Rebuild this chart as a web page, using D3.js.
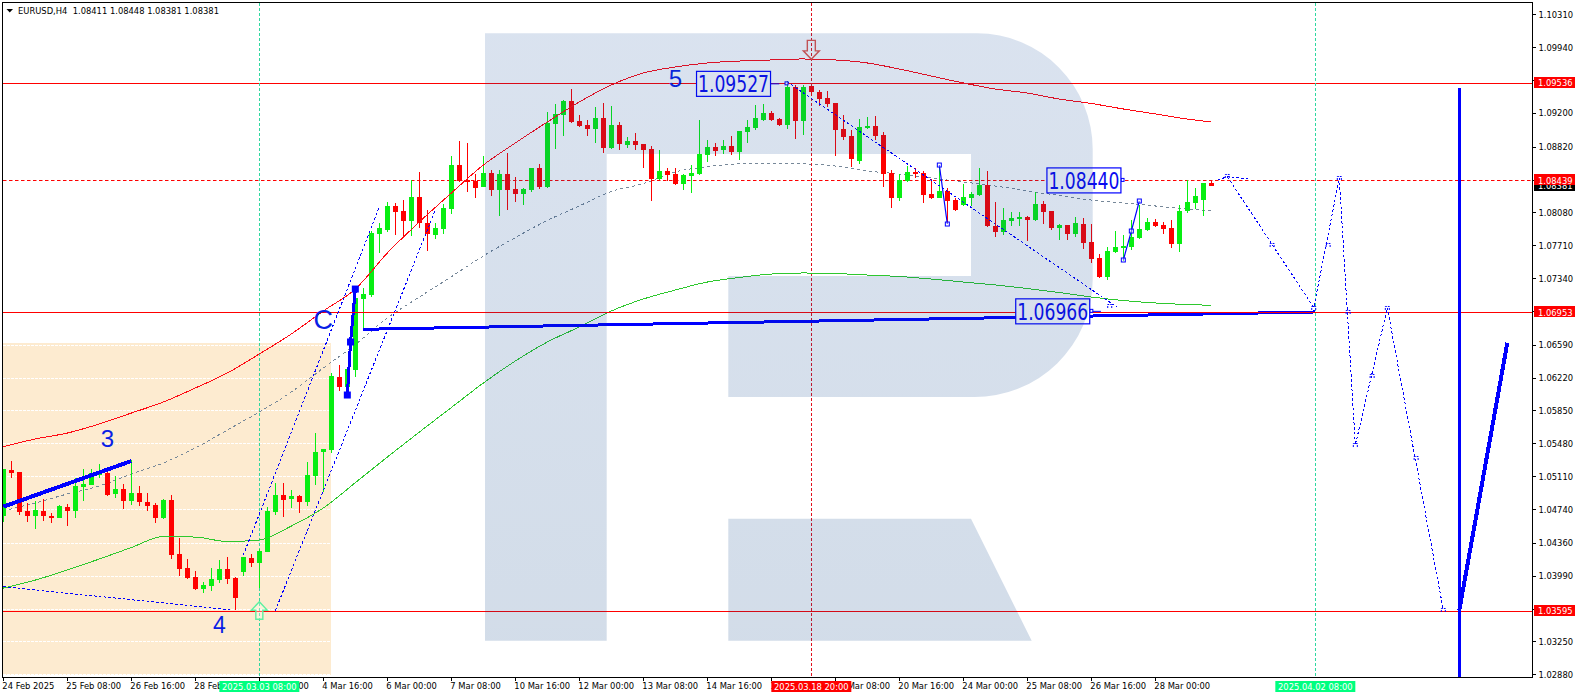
<!DOCTYPE html>
<html>
<head>
<meta charset="utf-8">
<script src="https://cdn.jsdelivr.net/npm/d3@7/dist/d3.min.js"></script>
<style>
html,body{margin:0;padding:0;background:#fff;overflow:hidden}
svg{display:block}
.ax text{font-family:"DejaVu Sans Condensed","DejaVu Sans",sans-serif;font-stretch:condensed;font-size:9.3px;fill:#000}
.lab{font-family:"DejaVu Sans Condensed","DejaVu Sans",sans-serif;font-stretch:condensed;font-size:9.3px}
</style>
</head>
<body>
<svg id="c" width="1578" height="698"></svg>
<script>
// prices are stored in points (price x 100000)
const symbolHeader = "EURUSD,H4  1.08411 1.08448 1.08381 1.08381";
const opens = [104666,105180,105157,104718,104666,104718,104666,104643,104763,104718,
104988,105011,105131,105146,104910,104966,104831,104921,104820,104786,
104640,104842,104235,104077,103976,103841,103875,103942,104066,103965,
104032,104190,104133,104257,104707,104898,104853,104887,104820,105112,
105382,105405,106226,106115,106307,107105,107150,107837,107882,108152,
108095,107983,108253,107960,107825,107893,108118,108613,108444,108433,
108365,108523,108332,108512,108343,108287,108332,108579,108365,109074,
109175,109333,109108,109063,109018,109142,108804,109063,108838,108883,
108849,108793,108455,108545,108512,108399,108489,108512,108726,108816,
108782,108827,108760,108985,109030,109120,109198,109131,109063,109491,
109108,109502,109434,109367,109311,109018,108940,108658,109030,109052,
108951,108523,108242,108433,108535,108523,108287,108242,108321,108219,
108163,108241,108275,108388,107926,107859,107983,108005,108028,107994,
108174,108095,107904,107938,107836,107949,107746,107566,107353,107634,
107679,107690,107791,107881,107971,107938,107904,107724,108095,108185,
108219,108411];
const highs = [105187,105281,105157,104808,104827,104850,104692,104782,104797,105086,
105191,105191,105247,105157,105112,105022,105292,105000,104921,104808,
104850,104898,104415,104178,104043,103920,104077,104167,104201,103976,
104201,104235,104291,104763,105033,105033,104955,104898,105270,105596,
105416,106271,106361,106318,107132,107229,107870,107960,108197,108185,
108219,108444,108534,108107,107960,108174,108714,108883,108860,108512,
108714,108557,108557,108748,108478,108354,108579,108624,109209,109299,
109344,109468,109175,109119,109265,109310,109277,109097,108928,108973,
108849,108827,108782,108579,108579,108512,108613,109120,108895,108861,
108895,108940,108996,109120,109288,109300,109221,109142,109558,109513,
109513,109502,109457,109446,109311,109176,109007,109131,109153,109165,
108985,108557,108512,108602,108580,108546,108456,108613,108355,108241,
108399,108309,108579,108545,108196,108129,108084,108084,108039,108309,
108208,108095,107949,107938,108028,108016,107949,107611,107690,107870,
107825,107994,108163,108016,108005,107971,107994,108163,108444,108354,
108410,108448];
const lows = [104598,105093,104677,104598,104520,104610,104587,104640,104553,104643,
104831,105011,105090,104887,104865,104741,104786,104775,104718,104583,
104628,104178,103987,103953,103830,103796,103818,103908,103897,103601,
103987,104088,103852,104257,104673,104651,104752,104696,104775,105011,
104932,105371,106068,106007,106232,106757,107128,107623,107859,107825,
107792,107814,107904,107645,107780,107837,108062,108422,108309,108242,
108365,108264,108039,108107,108197,108163,108309,108343,108354,108793,
108939,109085,109040,108939,108860,108748,108793,108782,108804,108782,
108579,108208,108444,108433,108388,108332,108298,108501,108647,108715,
108737,108726,108670,108861,109007,109108,109108,109052,109018,108906,
108951,109389,109277,109266,108715,108895,108591,108625,109018,108895,
108366,108130,108208,108422,108467,108186,108231,108242,107950,108095,
108151,108151,108264,107915,107803,107825,107926,107926,107758,107983,
107949,107881,107769,107769,107803,107668,107510,107341,107319,107623,
107533,107656,107780,107870,107915,107836,107679,107634,108073,108118,
108039,108381];
const closes = [105187,105150,104707,104666,104730,104666,104640,104775,104718,105000,
105022,105146,105146,104898,104966,104831,104921,104820,104775,104640,
104842,104223,104066,103965,103841,103886,103953,104066,103953,103740,
104201,104133,104268,104718,104898,104842,104887,104820,105123,105382,
105416,106237,106113,106318,107117,107162,107848,107904,108152,108084,
107983,108253,107960,107837,107904,108129,108613,108433,108422,108354,
108523,108332,108512,108332,108287,108343,108579,108365,109085,109187,
109333,109097,109052,109018,109142,108804,109063,108849,108883,108838,
108782,108455,108545,108500,108399,108500,108523,108737,108816,108771,
108827,108760,108996,109041,109142,109198,109120,109063,109491,109108,
109491,109434,109356,109300,109007,108928,108681,109041,109052,108940,
108512,108242,108445,108535,108512,108276,108242,108321,108208,108106,
108253,108286,108388,107926,107859,107994,108016,108028,107994,108174,
108084,107904,107938,107836,107960,107735,107555,107353,107645,107690,
107701,107803,107893,107971,107926,107893,107724,108095,108196,108264,
108410,108381];

const maBars = [0,4,8,12,16,20,24,28,32,36,40,44,48,52,56,60,64,68,72,76,80,84,88,92,96,100,104,108,112,116,120,124,128,132,136,140,144,148,151];
const maUpper = [105442,105529,105596,105698,105821,105945,106103,106272,106486,106711,106970,107217,107623,107972,108298,108613,108861,109098,109323,109514,109649,109717,109762,109784,109796,109807,109796,109762,109694,109615,109537,109469,109424,109356,109306,109244,109188,109131,109098];
const maMiddle = [104722,104808,104910,105000,105135,105259,105428,105630,105833,106058,106328,106593,106891,107127,107356,107589,107797,107989,108152,108315,108405,108535,108594,108625,108625,108625,108602,108546,108512,108467,108422,108377,108321,108270,108219,108186,108152,108118,108099];
const maLower = [103851,103941,104054,104178,104307,104431,104425,104375,104392,104549,104752,105037,105326,105607,105883,106159,106407,106621,106790,106970,107105,107206,107296,107347,107386,107398,107392,107375,107358,107330,107296,107263,107223,107178,107127,107088,107060,107043,107034];

const levelsSolid = [109536,106953,103595];
const levelDashed = 108439;
const bidPrice = 108381;

const yTicks = [110310,109940,109570,109200,108820,108450,108080,107710,107340,106970,106590,106220,105850,105480,105110,104740,104360,103990,103620,103250,102880];
const xTickBars = [0,8,16,24,32,40,48,56,64,72,80,88,96,104,112,120,128,136,144];
const xTickLabels = ["24 Feb 2025","25 Feb 08:00","26 Feb 16:00","28 Feb 00:00","3 Mar 08:00","4 Mar 16:00","6 Mar 00:00","7 Mar 08:00","10 Mar 16:00","12 Mar 00:00","13 Mar 08:00","14 Mar 16:00","18 Mar 00:00","19 Mar 08:00","20 Mar 16:00","24 Mar 00:00","25 Mar 08:00","26 Mar 16:00","28 Mar 00:00"];

const vLines = [{bar:32,label:"2025.03.03 08:00",kind:"g"},{bar:101,label:"2025.03.18 20:00",kind:"r"},{bar:164,label:"2025.04.02 08:00",kind:"g"}];

const wave3Bars = [0,16], wave3Vals = [104767,105281];
const waveCBars = [43,43.4,44], waveCVals = [106024,106621,107217];
const baseBars = [45,164], baseVals = [106764,106959];
const bigVBars = [182,182], bigVVals = [109477,102849];
const bigDBars = [182,188], bigDVals = [103604,106613];

const dashedSegs = [
  {b:[0,28.7],v:[103866,103604]},
  {b:[30,47],v:[104223,108141]},
  {b:[34,54],v:[103596,108107]},
  {b:[98,139.2],v:[109548,107015]},
  {b:[151.8,153,155.9],v:[108445,108482,108456]},
  {b:[153,163.8,167,169,173,180],v:[108482,107010,108464,105461,107004,103604]}
];
const zigA = {b:[117,118],v:[108613,107949]};
const zigB = {b:[140,141,142],v:[107544,107870,108208]};
const dashMarkBars = [153,158.6,163.8,165.6,167,168.1,169,171.1,173,176.6,180,138.3];
const dashMarkVals = [108490,107713,107004,107713,108467,106959,105461,106238,107004,105315,103604,107026];

const waveLabelText = ["3","4","5","C"];
const waveLabelBars = [13,27,84,40];
const waveLabelVals = [105441,103344,109491,106767];
const waveLabelSize = [24,23,24,27];

const boxValues = [109527,108440,106966];
const boxBars = [95.9,139.7,135.8];
const boxTipBars = [97.9,139.9,136];
const boxEndBars = [97,140,137.2];

const upArrow = {bar:32,val:103697};
const downArrow = {bar:101,val:109803};

// scales
const x = d3.scaleLinear().domain([0,100]).range([3.33,803.33]);
const y = d3.scaleLinear().domain([110310,102880]).range([14.3,674.3]);
const fmt = v => (v/1e5).toFixed(5);
const svg = d3.select("#c");
const L=3,T=3,R=1532,B=677;
svg.append("rect").attr("width",1578).attr("height",698).attr("fill","#fff");
const defs = svg.append("defs");
defs.append("clipPath").attr("id","plot").append("rect").attr("x",L).attr("y",T).attr("width",R-L).attr("height",B-T);
defs.append("clipPath").attr("id","warm").append("rect").attr("x",L).attr("y",343).attr("width",328).attr("height",332);
const grad = defs.append("linearGradient").attr("id","logoG").attr("x1",0).attr("x2",0).attr("y1",0).attr("y2",1);
grad.append("stop").attr("offset","0").attr("stop-color","#0a4396").attr("stop-opacity",0.152);
grad.append("stop").attr("offset","1").attr("stop-color","#003a80").attr("stop-opacity",0.175);

const g = svg.append("g").attr("clip-path","url(#plot)");

// warm time band with dashed grid
g.append("rect").attr("x",L).attr("y",343).attr("width",328).attr("height",332).attr("fill","#fdebd0");
g.append("g").attr("clip-path","url(#warm)").selectAll("line").data(yTicks).join("line")
  .attr("x1",L).attr("x2",331).attr("y1",d=>Math.round(y(d))+.5).attr("y2",d=>Math.round(y(d))+.5)
  .attr("stroke","#fff").attr("stroke-width",1).attr("stroke-dasharray","3,1");

// indicator curves
const curve = (vals)=>d3.line().x((d,i)=>x(maBars[i])).y(d=>y(d)).curve(d3.curveMonotoneX)(vals);
g.append("path").attr("d",curve(maMiddle)).attr("fill","none").attr("stroke","#778899").attr("stroke-width",1).attr("stroke-dasharray","3,3").attr("shape-rendering","crispEdges");

// level lines
const levelLine = (sel,v)=>sel.append("line").attr("x1",L).attr("x2",R).attr("y1",Math.round(y(v))+.5).attr("y2",Math.round(y(v))+.5).attr("stroke","#ff0000").attr("stroke-width",1);
levelsSolid.forEach(v=>levelLine(g,v));
levelLine(g,levelDashed).attr("stroke-dasharray","3.5,2.5");

// vertical markers
g.selectAll(".vl").data(vLines).join("line").attr("class","vl")
  .attr("x1",d=>Math.floor(x(d.bar))+.5).attr("x2",d=>Math.floor(x(d.bar))+.5).attr("y1",T).attr("y2",B)
  .attr("stroke",d=>d.kind==="g"?"#2fd8a0":"#e0101c").attr("stroke-width",1).attr("stroke-dasharray","3,2");

// candles
const idx = d3.range(opens.length);
const cx = i => Math.floor(x(i));
g.append("g").selectAll("rect").data(idx).join("rect")
  .attr("x",cx).attr("width",1)
  .attr("y",i=>Math.round(y(highs[i]))).attr("height",i=>Math.max(1,Math.round(y(lows[i]))-Math.round(y(highs[i]))))
  .attr("fill",i=>closes[i]>=opens[i]?"#08ee12":"#ff0000").attr("shape-rendering","crispEdges");
g.append("g").selectAll("rect").data(idx).join("rect")
  .attr("x",i=>cx(i)-2).attr("width",5)
  .attr("y",i=>Math.round(y(Math.max(opens[i],closes[i]))))
  .attr("height",i=>Math.max(2,Math.round(y(Math.min(opens[i],closes[i])))-Math.round(y(Math.max(opens[i],closes[i])))))
  .attr("fill",i=>closes[i]>=opens[i]?"#08ee12":"#ff0000").attr("shape-rendering","crispEdges");

g.append("path").attr("d",curve(maUpper)).attr("fill","none").attr("stroke","#ff0a14").attr("stroke-width",1).attr("shape-rendering","crispEdges");
g.append("path").attr("d",curve(maLower)).attr("fill","none").attr("stroke","#2ec82e").attr("stroke-width",1).attr("shape-rendering","crispEdges");

// blue wave lines
const pl = (b,v)=>d3.line().x((d,i)=>x(b[i])).y(d=>y(d))(v);
const thick = (b,v,w)=>g.append("path").attr("d",pl(b,v)).attr("fill","none").attr("stroke","#0000ff").attr("stroke-width",w).attr("shape-rendering","crispEdges");
thick(wave3Bars,wave3Vals,4);
thick(waveCBars,waveCVals,3);
thick(baseBars,baseVals,3);
levelLine(g,106953);
thick(bigVBars,bigVVals,3);
thick(bigDBars,bigDVals,4);
dashedSegs.forEach(s=>g.append("path").attr("d",pl(s.b,s.v)).attr("fill","none").attr("stroke","#0000ff").attr("stroke-width",1).attr("stroke-dasharray","2.6,2.2").attr("shape-rendering","crispEdges"));
[zigA,zigB].forEach(s=>{
  g.append("path").attr("d",pl(s.b,s.v)).attr("fill","none").attr("stroke","#0000ff").attr("stroke-width",1.2);
  g.append("g").selectAll("rect").data(s.b.map((b,i)=>[b,s.v[i]])).join("rect")
   .attr("x",d=>x(d[0])-2).attr("y",d=>y(d[1])-2).attr("width",4).attr("height",4)
   .attr("fill","#fff").attr("fill-opacity",.4).attr("stroke","#0000ff").attr("stroke-width",1);
});
waveCBars.forEach((b,i)=>g.append("rect").attr("x",x(b)-3.5).attr("y",y(waveCVals[i])-3.5).attr("width",7).attr("height",7).attr("fill","#0000ff"));
g.append("g").selectAll("path").data(dashMarkBars.map((b,i)=>[b,dashMarkVals[i]])).join("path")
  .attr("d",d=>{const a=x(d[0]),c=y(d[1]);return `M${a-2},${c+2}V${c-1.5}H${a+2}V${c+2}`;})
  .attr("fill","none").attr("stroke","#0000ff").attr("stroke-width",1).attr("stroke-dasharray","2,1");

// arrows
const ua = upArrow, da = downArrow;
g.append("path").attr("d",(()=>{const a=x(ua.bar),t=y(ua.val);return `M${a},${t}L${a+8},${t+8.5}H${a+3.5}V${t+17.5}H${a-3.5}V${t+8.5}H${a-8}Z`;})())
  .attr("fill","#f6fff0").attr("fill-opacity",.35).attr("stroke","#5cf0a0").attr("stroke-width",1.4);
g.append("path").attr("d",(()=>{const a=x(da.bar),t=y(da.val);return `M${a},${t}L${a+8},${t-8.5}H${a+4}V${t-19}H${a-4}V${t-8.5}H${a-8}Z`;})())
  .attr("fill","none").attr("stroke","#e2554a").attr("stroke-width",1.4);

// value boxes
boxValues.forEach((v,i)=>{
  const rx=x(boxBars[i]), cy=y(v);
  g.append("line").attr("x1",rx).attr("x2",x(boxEndBars[i])).attr("y1",cy).attr("y2",cy).attr("stroke","#0000ff").attr("stroke-width",1);
  g.append("rect").attr("x",x(boxTipBars[i])-1.5).attr("y",cy-2).attr("width",3).attr("height",3).attr("fill","#fff").attr("stroke","#0000ff").attr("stroke-width",1);
  g.append("rect").attr("x",rx-74).attr("y",cy-12.5).attr("width",74).attr("height",25).attr("fill","#fff").attr("stroke","#0000ff").attr("stroke-width",1.2);
  g.append("text").attr("x",rx-72.5).attr("y",cy+8.3).attr("textLength",71).attr("lengthAdjust","spacingAndGlyphs")
    .attr("font-family","'DejaVu Sans Condensed','DejaVu Sans',sans-serif").attr("font-size",22.5).attr("fill","#0a0af0").text(fmt(v));
});

// wave labels
g.selectAll(".wl").data(waveLabelText).join("text").attr("class","wl")
  .attr("x",(d,i)=>x(waveLabelBars[i])).attr("y",(d,i)=>y(waveLabelVals[i])).attr("text-anchor","middle")
  .attr("font-family","'Liberation Sans',sans-serif").attr("font-size",(d,i)=>waveLabelSize[i]).attr("fill","#0a1ee6").text(d=>d);

// logo overlay (tints everything beneath it)
g.append("path").attr("fill","url(#logoG)").attr("d",
 "M485,33.3H977A116,116 0 0 1 1092.7,150V280A118,118 0 0 1 973,397H728.3V276H971V154H606.7V640.7H485Z"+
 "M728.3,518.7H971L1031.7,640.7H728.3Z");

// frame
svg.append("rect").attr("x",2.5).attr("y",2.5).attr("width",1530).attr("height",675).attr("fill","none").attr("stroke","#000").attr("stroke-width",1).attr("shape-rendering","crispEdges");

// axes
const yAxis = d3.axisRight(y).tickValues(yTicks).tickSize(3).tickPadding(3).tickFormat(fmt);
const ya = svg.append("g").attr("class","ax").attr("transform",`translate(${R+0.5},0)`).call(yAxis);
ya.select(".domain").remove();
ya.selectAll("line").attr("stroke","#000").attr("shape-rendering","crispEdges");

const xAxis = d3.axisBottom(x).tickValues(xTickBars).tickSize(3).tickPadding(2).tickFormat((d,i)=>xTickLabels[i]);
const xa = svg.append("g").attr("class","ax").attr("transform",`translate(0,${B+0.5})`).call(xAxis);
xa.select(".domain").remove();
xa.selectAll("line").attr("stroke","#000").attr("shape-rendering","crispEdges");
xa.selectAll("text").attr("text-anchor","start").attr("x",-1.5);

// price tags
const tag = (v,bg,fg)=>{
  const c=y(v);
  svg.append("rect").attr("x",1534).attr("y",Math.round(c)-6).attr("width",41).attr("height",11).attr("fill",bg);
  svg.append("text").attr("class","lab").attr("x",1538).attr("y",c+3.2).attr("fill",fg).text(fmt(v));
};
tag(bidPrice,"#000","#fff");
tag(levelDashed,"#ff0000","#fff");
levelsSolid.forEach(v=>tag(v,"#ff0000","#fff"));

// time tags
vLines.forEach(d=>{
  const c=x(d.bar);
  svg.append("rect").attr("x",c-40).attr("y",681).attr("width",80).attr("height",11).attr("fill",d.kind==="g"?"#00ff7f":"#ff0000");
  svg.append("text").attr("class","lab").attr("x",c).attr("y",690).attr("text-anchor","middle").attr("fill","#fff").text(d.label);
});

// header
svg.append("path").attr("d","M6.5,9H13L9.75,12.5Z").attr("fill","#000");
svg.append("text").attr("class","lab").attr("x",18).attr("y",14).attr("fill","#000").style("white-space","pre").text(symbolHeader);
</script>
</body>
</html>
